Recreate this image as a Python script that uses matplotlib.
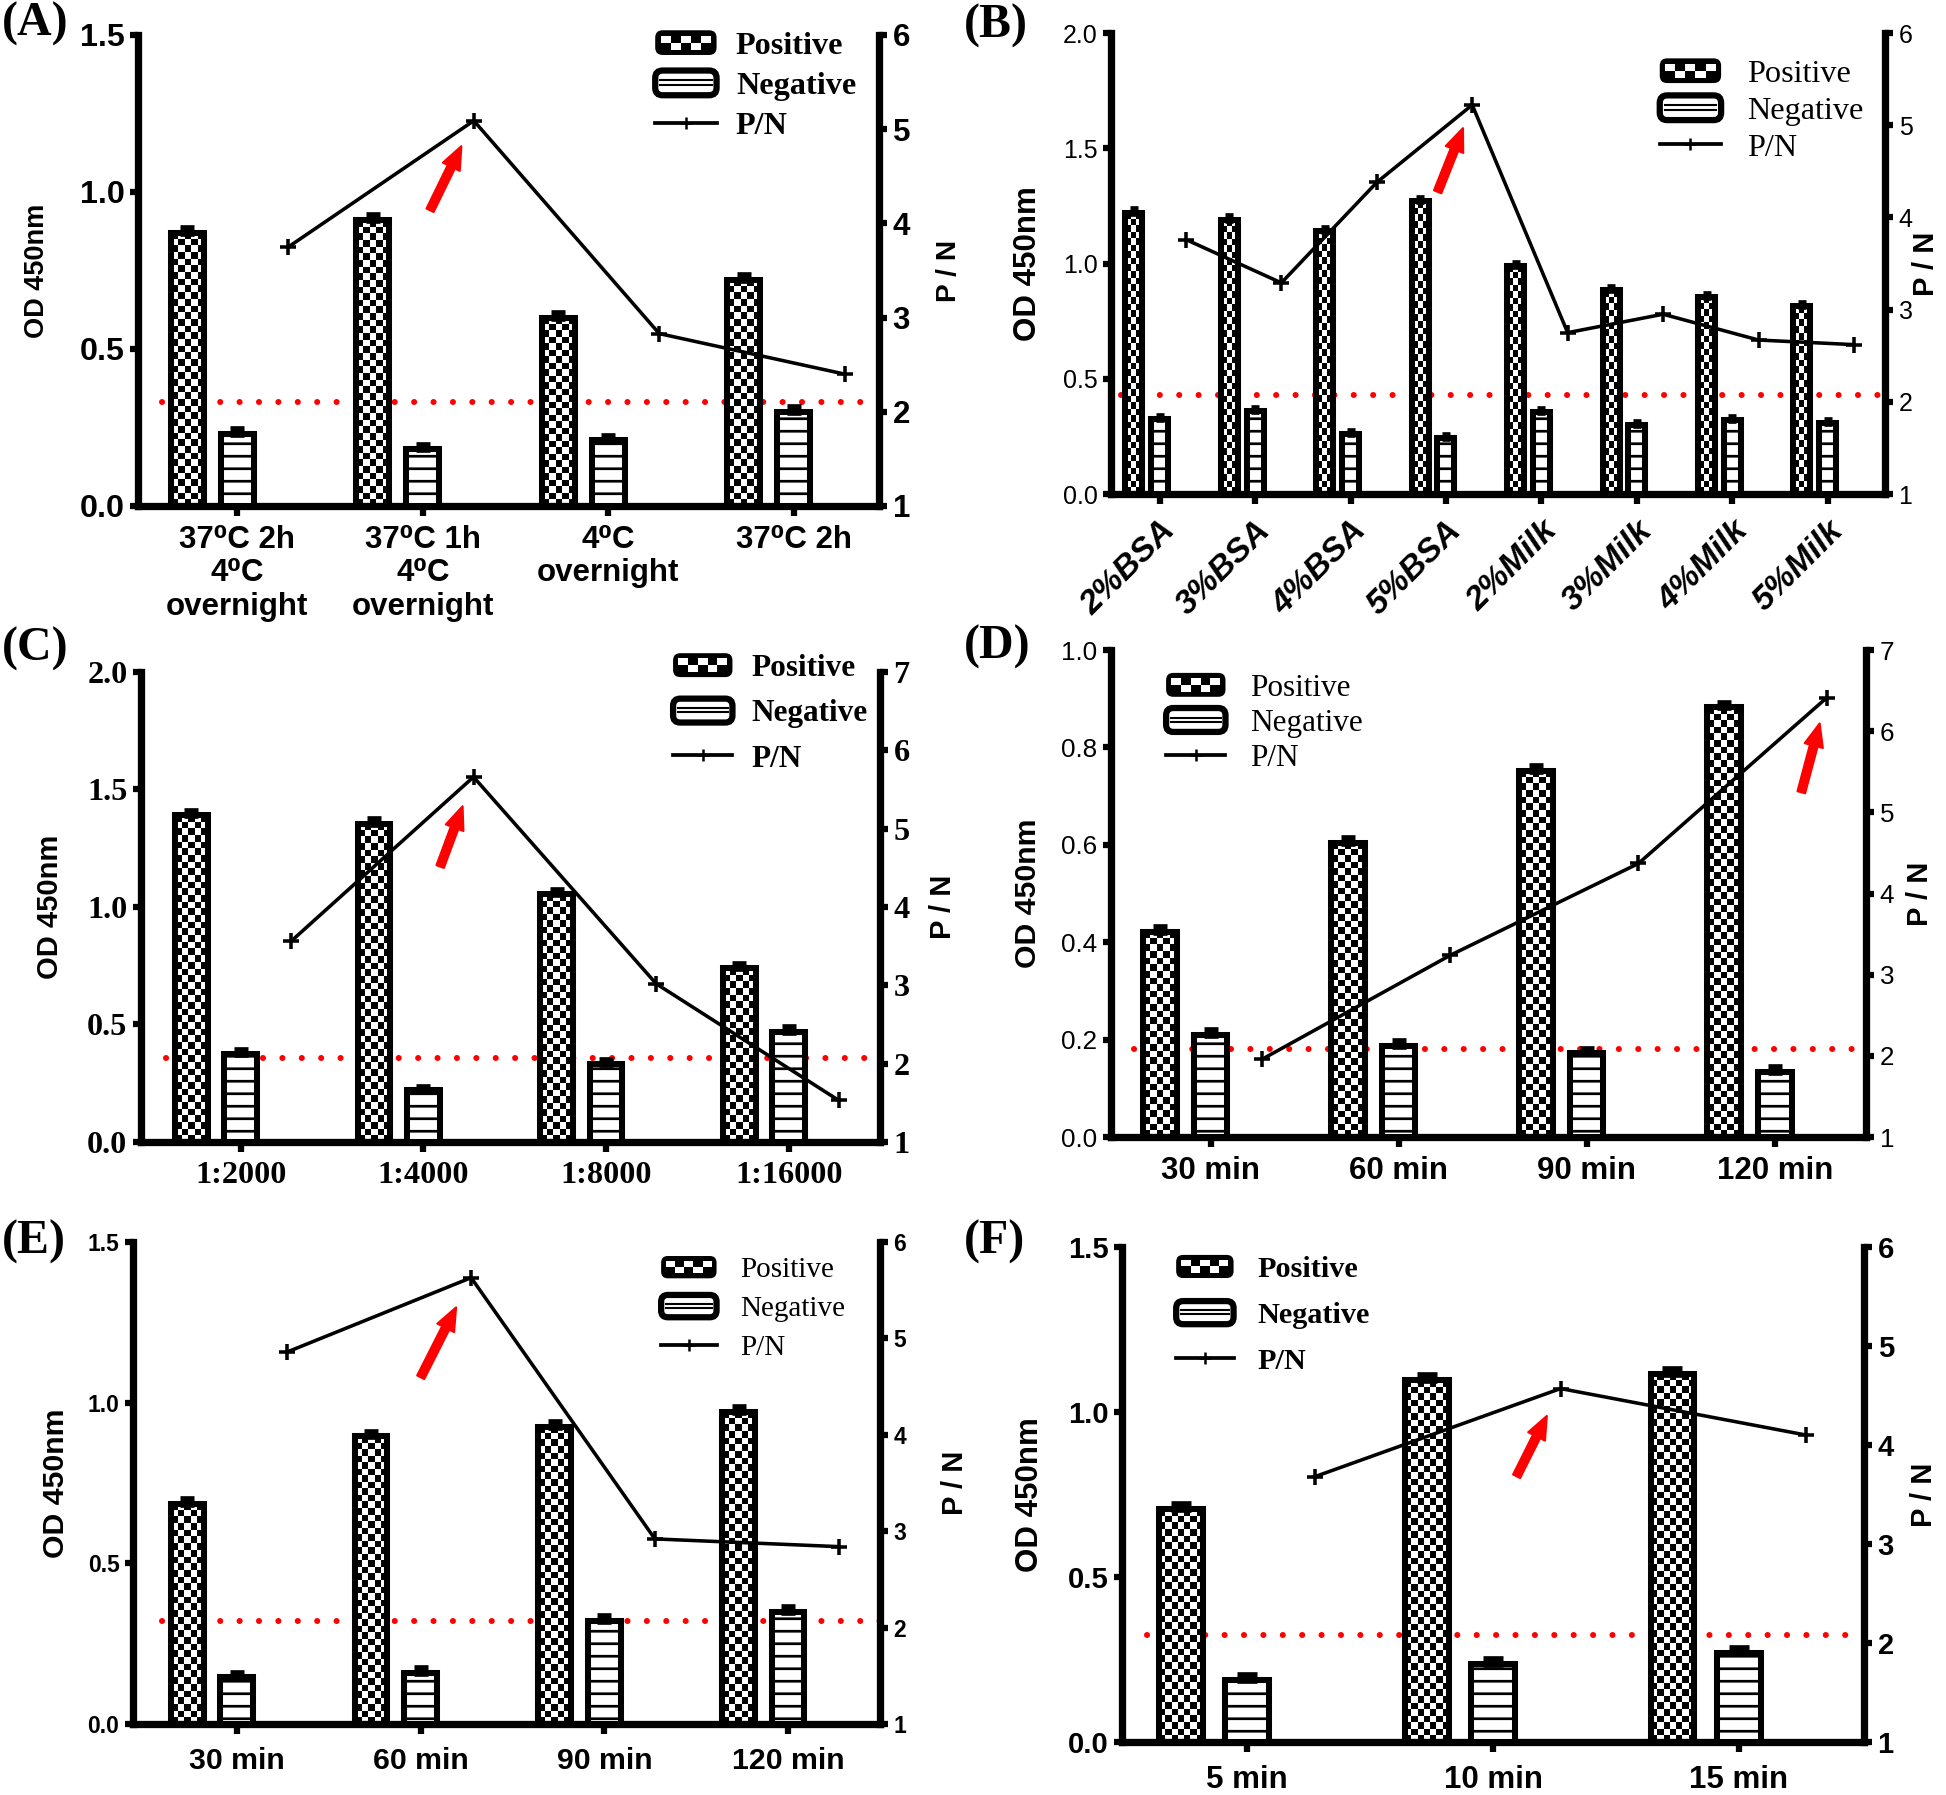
import numpy as np
import matplotlib
matplotlib.use("Agg")
import matplotlib.pyplot as plt
from matplotlib.patches import FancyBboxPatch, Rectangle, Patch
from matplotlib.lines import Line2D
from matplotlib.legend_handler import HandlerBase
from matplotlib.font_manager import FontProperties

# ---------------- data ----------------
A_cats = ["37\u2070C 2h\n4\u2070C\novernight", "37\u2070C 1h\n4\u2070C\novernight", "4\u2070C\novernight", "37\u2070C 2h"]
A_pos = [0.87, 0.91, 0.60, 0.72]
A_neg = [0.23, 0.18, 0.21, 0.30]
A_pos_err = [0.015, 0.016, 0.014, 0.015]
A_neg_err = [0.014, 0.013, 0.013, 0.014]
A_pn = [3.75, 5.09, 2.83, 2.40]
A_cut = 0.33

B_cats = ["2%BSA", "3%BSA", "4%BSA", "5%BSA", "2%Milk", "3%Milk", "4%Milk", "5%Milk"]
B_pos = [1.22, 1.19, 1.14, 1.27, 0.99, 0.885, 0.855, 0.815]
B_neg = [0.325, 0.36, 0.26, 0.245, 0.355, 0.30, 0.32, 0.31]
B_pos_err = [0.015, 0.015, 0.014, 0.016, 0.013, 0.013, 0.013, 0.013]
B_neg_err = [0.013, 0.014, 0.012, 0.012, 0.014, 0.012, 0.012, 0.012]
B_pn = [3.76, 3.29, 4.38, 5.22, 2.75, 2.95, 2.67, 2.62]
B_cut = 0.43

C_cats = ["1:2000", "1:4000", "1:8000", "1:16000"]
C_pos = [1.39, 1.355, 1.055, 0.74]
C_neg = [0.375, 0.22, 0.33, 0.47]
C_pos_err = [0.02, 0.02, 0.018, 0.018]
C_neg_err = [0.018, 0.016, 0.017, 0.018]
C_pn = [3.56, 5.66, 3.02, 1.53]
C_cut = 0.358

D_cats = ["30 min", "60 min", "90 min", "120 min"]
D_pos = [0.421, 0.604, 0.752, 0.882]
D_neg = [0.21, 0.187, 0.172, 0.134]
D_pos_err = [0.01, 0.01, 0.01, 0.01]
D_neg_err = [0.01, 0.01, 0.009, 0.009]
D_pn = [1.96, 3.24, 4.37, 6.41]
D_cut = 0.18

E_cats = ["30 min", "60 min", "90 min", "120 min"]
E_pos = [0.686, 0.895, 0.925, 0.972]
E_neg = [0.145, 0.16, 0.322, 0.35]
E_pos_err = [0.015, 0.015, 0.015, 0.014]
E_neg_err = [0.013, 0.013, 0.013, 0.014]
E_pn = [4.86, 5.63, 2.92, 2.84]
E_cut = 0.322

F_cats = ["5 min", "10 min", "15 min"]
F_pos = [0.706, 1.096, 1.116]
F_neg = [0.189, 0.237, 0.269]
F_pos_err = [0.015, 0.015, 0.015]
F_neg_err = [0.014, 0.014, 0.015]
F_pn = [3.68, 4.57, 4.10]
F_cut = 0.324

# ---------------- style ----------------
SANS = ["Liberation Sans", "DejaVu Sans"]
SERIF = ["Liberation Serif", "DejaVu Serif"]
plt.rcParams["hatch.linewidth"] = 1.3

W, H, DPI = 1946, 1795, 150
fig = plt.figure(figsize=(W / DPI, H / DPI), dpi=DPI)

SPINE_LW = 3.5
BAR_LW = 2.9
BW = 0.178
POS_OFF = -0.27
PN_OFF = 0.275


class PosHandler(HandlerBase):
    def create_artists(self, legend, orig_handle, xdescent, ydescent, width, height, fontsize, trans):
        x0, y0 = -xdescent, -ydescent
        arts = [FancyBboxPatch((x0, y0), width, height,
                               boxstyle="round,pad=0,rounding_size=%f" % (height * 0.3),
                               fc="black", ec="black", lw=0, transform=trans)]
        m = height * 0.22
        iw, ih = width - 2 * m, height - 2 * m
        ncol, nrow = 5, 2
        cw, ch = iw / ncol, ih / nrow
        for r in range(nrow):
            for c in range(ncol):
                if (r + c) % 2 == 1:
                    arts.append(Rectangle((x0 + m + c * cw, y0 + m + r * ch), cw, ch,
                                          fc="white", ec="none", transform=trans))
        return arts


class NegHandler(HandlerBase):
    def create_artists(self, legend, orig_handle, xdescent, ydescent, width, height, fontsize, trans):
        x0, y0 = -xdescent, -ydescent
        box = FancyBboxPatch((x0, y0), width, height,
                             boxstyle="round,pad=0,rounding_size=%f" % (height * 0.3),
                             fc="white", ec="black", lw=3.0, transform=trans)
        m = height * 0.2
        l1 = Line2D([x0 + m, x0 + width - m], [y0 + height * 0.42] * 2, color="black", lw=1.0, transform=trans)
        l2 = Line2D([x0 + m, x0 + width - m], [y0 + height * 0.60] * 2, color="black", lw=1.0, transform=trans)
        return [box, l1, l2]


def fp(fam, weight, size, style="normal"):
    return dict(fontfamily=fam, fontweight=weight, fontsize=size, fontstyle=style)


def checker_fill(ax, bars, cell_px=6.6):
    for rect in bars:
        x, w, h = rect.get_x(), rect.get_width(), rect.get_height()
        p0 = ax.transData.transform((x, 0))
        p1 = ax.transData.transform((x + w, h))
        wpx, hpx = p1[0] - p0[0], p1[1] - p0[1]
        nc = max(2, int(round(wpx / cell_px)))
        nr = max(1, int(round(hpx / cell_px)))
        arr = np.add.outer(np.arange(nr), np.arange(nc)) % 2
        im = ax.imshow(arr, extent=(x, x + w, 0, h), cmap="gray", vmin=0, vmax=1,
                       aspect="auto", interpolation="nearest", origin="lower", zorder=2.5)
        im.set_clip_path(rect)


def panel(spec, cats, pos, neg, pos_err, neg_err, pn, cut):
    ax = fig.add_axes(spec["rect"])
    n = len(cats)
    x = np.arange(n)
    ax.set_xlim(*spec["xlim"])
    ax.set_ylim(*spec["ylim"])
    ax.set_autoscale_on(False)

    pos_x = x + POS_OFF
    bars_p = ax.bar(pos_x, pos, BW, facecolor="none", edgecolor="black", linewidth=BAR_LW, zorder=3)
    ax.bar(x, neg, BW, facecolor="white", edgecolor="black", linewidth=BAR_LW, hatch="--", zorder=3)
    checker_fill(ax, bars_p)

    bar_px = ax.transData.transform((BW, 0))[0] - ax.transData.transform((0, 0))[0]
    cap = 0.22 * bar_px * 72 / DPI
    ax.errorbar(pos_x, pos, yerr=[np.zeros(n), pos_err], fmt="none", ecolor="black",
                elinewidth=2.5, capsize=cap, capthick=3.2, zorder=4)
    ax.errorbar(x, neg, yerr=[np.zeros(n), neg_err], fmt="none", ecolor="black",
                elinewidth=2.5, capsize=cap, capthick=3.2, zorder=4)

    start = pos_x[0] - BW / 2 - 0.05
    ax.plot([start, spec["xlim"][1]], [cut, cut], color="red", lw=2.9,
            linestyle=(0, (0.01, 3.2)), dash_capstyle="round", zorder=2, clip_on=False)

    for s in ("top", "right"):
        ax.spines[s].set_visible(False)
    for s in ("left", "bottom"):
        ax.spines[s].set_linewidth(SPINE_LW)

    tf = spec["tick_font"]
    ax.set_yticks(spec["yticks"], labels=[spec["yfmt"] % t for t in spec["yticks"]], **tf)
    xf = spec["x_font"]
    xkw = dict(xf)
    if spec.get("rot"):
        xkw.update(rotation=45, ha="right", rotation_mode="anchor")
    ax.set_xticks(x, labels=cats, **xkw)
    ax.tick_params(axis="y", length=4, width=3, pad=2.5, direction="out")
    ax.tick_params(axis="x", length=5, width=3, pad=spec.get("xpad", 4), direction="out")
    if not spec.get("rot"):
        for lbl in ax.get_xticklabels():
            lbl.set_linespacing(1.15)

    ax.set_ylabel("OD 450nm", fontfamily=SANS, fontweight="bold", fontsize=spec["ylab_size"])
    ax.yaxis.label.set_verticalalignment("center")
    ax.yaxis.set_label_coords(spec["ylab_x"], 0.5)

    ax2 = ax.twinx()
    ax2.set_ylim(*spec["rylim"])
    for s in ("top", "left", "bottom"):
        ax2.spines[s].set_visible(False)
    ax2.spines["right"].set_linewidth(SPINE_LW)
    ax2.set_yticks(spec["ryticks"], labels=["%d" % t for t in spec["ryticks"]], **spec["rtick_font"])
    ax2.tick_params(axis="y", length=4, width=3, pad=2.5, direction="out")
    ax2.plot(x + PN_OFF, pn, color="black", lw=1.7, marker="+", ms=spec.get("pn_ms", 8), mew=1.7, zorder=5)
    ax2.set_ylabel("P / N", fontfamily=SANS, fontweight="bold", fontsize=spec["plab_size"])
    ax2.yaxis.label.set_rotation(90)
    ax2.yaxis.label.set_verticalalignment("center")
    ax2.yaxis.label.set_horizontalalignment("center")
    ax2.yaxis.set_label_coords(spec["plab_x"], 0.5)

    ipk = int(np.argmax(pn))
    ax2.annotate("", xy=(x[ipk] + PN_OFF, pn[ipk]), xytext=spec["arrow_tail"], textcoords="offset points",
                 arrowprops=dict(arrowstyle="simple,head_length=1.1,head_width=0.9,tail_width=0.38",
                                 color="red", shrinkA=0, shrinkB=spec["arrow_shrink"], mutation_scale=10),
                 zorder=6)

    h_pos, h_neg = Patch(), Patch()
    h_pn = Line2D([], [], color="black", lw=1.8, marker="+", ms=6, mew=1.2)
    lf = spec["leg_font"]
    ax2.legend([h_pos, h_neg, h_pn], ["Positive", "Negative", "P/N"],
               handler_map={h_pos: PosHandler(), h_neg: NegHandler()},
               loc="upper left", bbox_to_anchor=spec["leg_anchor"], frameon=False,
               prop=FontProperties(family=SERIF, weight=lf[0], size=lf[1]),
               handlelength=1.9, handleheight=0.8, handletextpad=spec.get("leg_tp", 0.8),
               labelspacing=spec["leg_space"], borderpad=0, borderaxespad=0)

    fig.text(spec["tag_px"][0] / W, 1 - spec["tag_px"][1] / H, spec["tag"], ha="left", va="top",
             fontfamily=SERIF, fontweight="bold", fontsize=23)
    return ax, ax2


specA = dict(rect=(0.07091, 0.71811, 0.38078, 0.26240), xlim=(-0.536, 3.46), ylim=(0, 1.5),
             yticks=[0, 0.5, 1.0, 1.5], yfmt="%.1f", rylim=(1, 6), ryticks=[1, 2, 3, 4, 5, 6],
             tick_font=fp(SANS, "bold", 15.5), rtick_font=fp(SANS, "bold", 15), x_font=fp(SANS, "bold", 15),
             ylab_size=13, ylab_x=-0.136, plab_size=13.5, plab_x=1.094,
             leg_font=("bold", 15.5), leg_anchor=(0.698, 1.01), leg_space=0.3, leg_tp=0.6,
             arrow_tail=(-21, -43), arrow_shrink=13.6, tag="(A)", tag_px=(2, 2))
specB = dict(rect=(0.57091, 0.72479, 0.39774, 0.25682), xlim=(-0.51, 7.6), ylim=(0, 2.0),
             yticks=[0, 0.5, 1.0, 1.5, 2.0], yfmt="%.1f", rylim=(1, 6), ryticks=[1, 2, 3, 4, 5, 6],
             tick_font=fp(SANS, "normal", 12), rtick_font=fp(SANS, "normal", 12),
             x_font=fp(SANS, "bold", 16, "italic"), rot=True, xpad=5,
             ylab_size=15, ylab_x=-0.107, plab_size=14, plab_x=1.053,
             leg_font=("normal", 15.5), leg_anchor=(0.709, 0.945), leg_space=0.2,
             arrow_tail=(-16.6, -41.7), arrow_shrink=12, tag="(B)", tag_px=(964, 4))
specC = dict(rect=(0.07246, 0.36379, 0.37975, 0.26184), xlim=(-0.545, 3.5), ylim=(0, 2.0),
             yticks=[0, 0.5, 1.0, 1.5, 2.0], yfmt="%.1f", rylim=(1, 7), ryticks=[1, 2, 3, 4, 5, 6, 7],
             tick_font=fp(SERIF, "bold", 15.5), rtick_font=fp(SERIF, "bold", 15.5), x_font=fp(SERIF, "bold", 15.5),
             ylab_size=14, ylab_x=-0.123, plab_size=14, plab_x=1.085,
             leg_font=("bold", 15), leg_anchor=(0.72, 1.04), leg_space=0.5, leg_tp=0.6,
             arrow_tail=(-16, -43), arrow_shrink=15, tag="(C)", tag_px=(2, 627))
specD = dict(rect=(0.57091, 0.36657, 0.38798, 0.27131), xlim=(-0.53, 3.485), ylim=(0, 1.0),
             yticks=[0, 0.2, 0.4, 0.6, 0.8, 1.0], yfmt="%.1f", rylim=(1, 7), ryticks=[1, 2, 3, 4, 5, 6, 7],
             tick_font=fp(SANS, "normal", 12.5), rtick_font=fp(SANS, "normal", 12.5), x_font=fp(SANS, "bold", 15),
             ylab_size=14.5, ylab_x=-0.11, plab_size=14, plab_x=1.071,
             leg_font=("normal", 15), leg_anchor=(0.073, 0.953), leg_space=0.17,
             arrow_tail=(-12.1, -45.3), arrow_shrink=12.7, tag="(D)", tag_px=(964, 625))
specE = dict(rect=(0.06835, 0.03955, 0.38386, 0.26852), xlim=(-0.565, 3.5), ylim=(0, 1.5),
             yticks=[0, 0.5, 1.0, 1.5], yfmt="%.1f", rylim=(1, 6), ryticks=[1, 2, 3, 4, 5, 6],
             tick_font=fp(SANS, "bold", 11), rtick_font=fp(SANS, "bold", 11), x_font=fp(SANS, "bold", 14.5),
             xpad=6, ylab_size=14.5, ylab_x=-0.103, plab_size=14, plab_x=1.10,
             leg_font=("normal", 14), leg_anchor=(0.707, 0.971), leg_space=0.4,
             arrow_tail=(-24.2, -47.8), arrow_shrink=16, tag="(E)", tag_px=(2, 1220))
specF = dict(rect=(0.57657, 0.02953, 0.38130, 0.27577), xlim=(-0.51, 2.51), ylim=(0, 1.5),
             yticks=[0, 0.5, 1.0, 1.5], yfmt="%.1f", rylim=(1, 6), ryticks=[1, 2, 3, 4, 5, 6],
             tick_font=fp(SANS, "bold", 14), rtick_font=fp(SANS, "bold", 14), x_font=fp(SANS, "bold", 15),
             xpad=6, ylab_size=15, ylab_x=-0.124, plab_size=14, plab_x=1.081,
             leg_font=("bold", 14.5), leg_anchor=(0.073, 0.984), leg_space=0.6,
             arrow_tail=(-21.1, -42.1), arrow_shrink=14.7, tag="(F)", tag_px=(964, 1220))

panel(specA, A_cats, A_pos, A_neg, A_pos_err, A_neg_err, A_pn, A_cut)
panel(specB, B_cats, B_pos, B_neg, B_pos_err, B_neg_err, B_pn, B_cut)
panel(specC, C_cats, C_pos, C_neg, C_pos_err, C_neg_err, C_pn, C_cut)
panel(specD, D_cats, D_pos, D_neg, D_pos_err, D_neg_err, D_pn, D_cut)
panel(specE, E_cats, E_pos, E_neg, E_pos_err, E_neg_err, E_pn, E_cut)
panel(specF, F_cats, F_pos, F_neg, F_pos_err, F_neg_err, F_pn, F_cut)

fig.savefig("out.png", dpi=DPI, facecolor="white")
